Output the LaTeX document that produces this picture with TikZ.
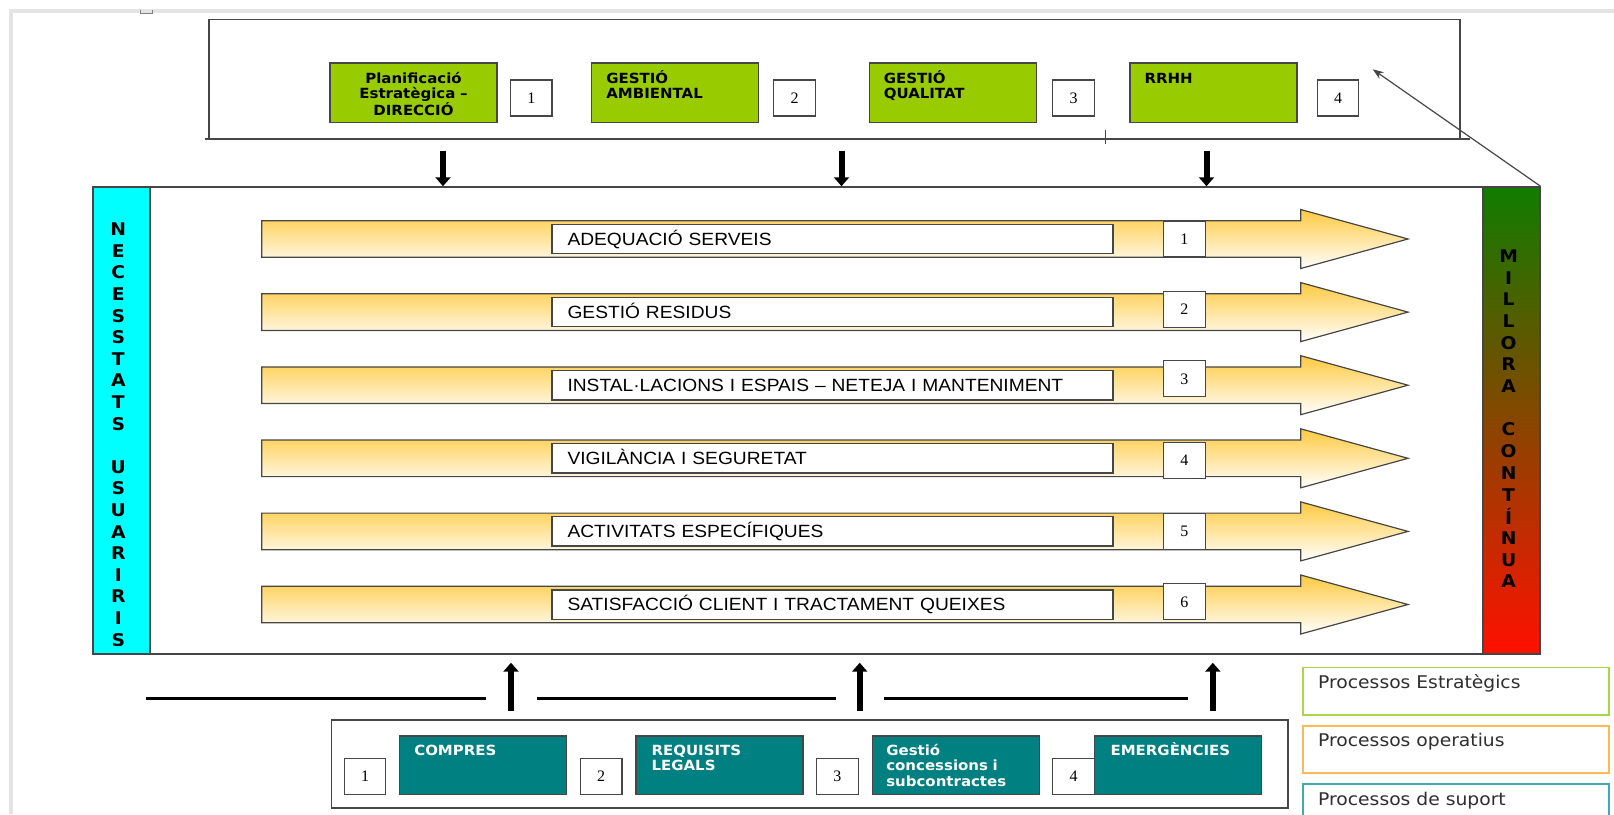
\documentclass[tikz,border=0pt]{standalone}
\usepackage{fontspec}
\usepackage{tikz}
\usetikzlibrary{arrows.meta,calc}
\setmainfont{Liberation Sans}
\newfontfamily\tahfont[FakeStretch=1.07]{DejaVu Sans}
\newfontfamily\rowfont[FakeStretch=1.085]{Liberation Sans}
\newfontfamily\numfont{Liberation Serif}
\definecolor{pr_green}{RGB}{153,204,0}
\definecolor{pr_teal}{RGB}{0,128,128}
\definecolor{pr_cyan}{RGB}{0,255,255}
\definecolor{pr_gold}{RGB}{255,202,64}
\definecolor{pr_dark}{RGB}{70,70,70}
\definecolor{pr_top}{RGB}{16,124,0}
\definecolor{pr_bot}{RGB}{255,16,0}
\definecolor{lg_green}{RGB}{168,216,72}
\definecolor{lg_orange}{RGB}{252,186,84}
\definecolor{lg_teal}{RGB}{64,170,176}
\definecolor{pg_gray}{RGB}{228,228,228}
\tikzstyle{gb}=[rectangle,fill=pr_green,draw=pr_dark,line width=1.3pt,
  minimum width=167pt,minimum height=59.5pt,inner sep=0pt]
\tikzstyle{tb}=[rectangle,fill=pr_teal,draw=pr_dark,line width=1.3pt,
  minimum width=167pt,minimum height=58.3pt,inner sep=0pt]
\tikzstyle{nb}=[rectangle,fill=white,draw=pr_dark,line width=1.1pt,
  minimum width=41.5pt,minimum height=36pt,inner sep=0pt,
  text height=11pt,text depth=0pt,font=\numfont\fontsize{16}{16}\selectfont]
\tikzstyle{lab}=[anchor=base west,inner sep=0pt,text width=150pt,align=left,
  font=\tahfont\bfseries\fontsize{14}{15.2}\selectfont]
\tikzstyle{rb}=[rectangle,fill=white,draw=pr_dark,line width=1.3pt,
  text width=530pt,inner xsep=15.5pt,inner ysep=0pt,minimum height=29.3pt,
  align=left,text height=12.7pt,text depth=0pt,
  font=\rowfont\fontsize{17.7}{17.7}\selectfont]
\tikzstyle{bar}=[rectangle,draw=pr_dark,line width=1.3pt,
  minimum width=57pt,minimum height=467pt,inner sep=0pt]
\tikzstyle{vl}=[inner sep=0pt,font=\tahfont\bfseries\fontsize{17.5}{17.5}\selectfont]
\tikzstyle{lgb}=[rectangle,fill=white,line width=1.5pt,anchor=north west,
  minimum width=306pt,minimum height=47.3pt,inner sep=0pt]
\tikzstyle{lgt}=[anchor=base west,inner sep=0pt,text=black!82,
  font=\tahfont\fontsize{17.5}{17.5}\selectfont]
\tikzstyle{darr}=[line width=6pt,-{Triangle[length=9pt,width=15pt]}]

\begin{document}
\begin{tikzpicture}[x=1pt,y=-1pt]
    \useasboundingbox (0,0) rectangle (1614,814);
    \draw[pg_gray,line width=3.4pt] (11,814) -- (11,11) -- (1614,11);
    \draw[gray,line width=0.8pt] (140,9.5) -- (140,13) -- (152.5,13) -- (152.5,9.5);

    % estrategics
    \draw[pr_dark,line width=1.5pt] (209,139) -- (209,19.3) -- (1460,19.3) -- (1460,139);
    \draw[pr_dark,line width=1.5pt] (205,139) -- (1470,139);
    \draw[pr_dark,line width=1pt] (1105,130) -- (1105,144);
    \node[gb] (g1) at (413.5,92.75) {};
    \node[gb] (g2) at (675.3,92.75) {};
    \node[gb] (g3) at (952.75,92.75) {};
    \node[gb] (g4) at (1213.5,92.75) {};
    \node[lab,anchor=base,text width=160pt,align=center] (t1) at ($(g1.north)+(0,21.3)$)
        {Planificació\\Estratègica –\\DIRECCIÓ};
    \node[lab] (t2) at ($(g2.north west)+(15,21.3)$) {GESTIÓ\\AMBIENTAL};
    \node[lab] (t3) at ($(g3.north west)+(15,21.3)$) {GESTIÓ\\QUALITAT};
    \node[lab] (t4) at ($(g4.north west)+(15,21.3)$) {RRHH};
    \node[nb] (s1) at (531.25,98) {1};
    \node[nb] (s2) at (794.5,98) {2};
    \node[nb] (s3) at (1073.5,98) {3};
    \node[nb] (s4) at (1338,98) {4};

    % operatius
    \node[rectangle,draw=pr_dark,line width=1.5pt,minimum width=1447pt,
        minimum height=467pt,inner sep=0pt] (main) at (816.5,420.5) {};
    \node[bar,fill=pr_cyan] (nec) at (121.5,420.5) {};
    \node[bar,top color=pr_top,bottom color=pr_bot] (mil) at (1511.5,420.5) {};
    \begin{scope}
        \clip (nec.north west) rectangle (150,645);
        \foreach \c [count=\k from 0] in {N,E,C,E,S,S,T,A,T,S,{},U,S,U,A,R,I,R,I,S}
            \node[vl] (n\k) at (118.3,229.3+21.6*\k) {\c};
    \end{scope}
    \foreach \c [count=\k from 0] in {M,I,L,L,O,R,A,{},C,O,N,T,Í,N,U,A}
        \node[vl] (m\k) at (1508.6,256+21.7*\k) {\c};

    \foreach \txt/\dy [count=\i] in {ADEQUACIÓ SERVEIS/0, GESTIÓ RESIDUS/-3,
        INSTAL·LACIONS I ESPAIS – NETEJA I MANTENIMENT/-6.5,
        VIGILÀNCIA I SEGURETAT/2, ACTIVITATS ESPECÍFIQUES/0,
        SATISFACCIÓ CLIENT I TRACTAMENT QUEIXES/-3}{
        \pgfmathsetmacro\cy{239+73.1*(\i-1)}
        \shade[draw=pr_dark,line width=1.2pt,top color=pr_gold,bottom color=white]
            (261.7,\cy-18.3) -- (1300.7,\cy-18.3) -- (1300.7,\cy-29.5) -- (1408,\cy)
            -- (1300.7,\cy+29.5) -- (1300.7,\cy+18.3) -- (261.7,\cy+18.3) -- cycle;
        \node[rb] (r\i) at (832.5,\cy) {\txt};
        \node[nb] (k\i) at (1184.4,\cy+\dy) {\i};
    }

    \foreach \x [count=\k] in {443,841.5,1206.5}{
        \coordinate (d\k) at (\x,150.7);
        \draw[darr] (d\k) -- (d\k |- main.north);
    }
    \coordinate (dg) at (1372.7,69.3);
    \draw[pr_dark,line width=1.2pt,-{Stealth[length=11pt,width=8pt]}] (mil.north east) -- (dg);

    % suport
    \draw[line width=2.6pt] (146,698.7) -- (485.5,698.7);
    \draw[line width=2.6pt] (536.7,698.7) -- (836.3,698.7);
    \draw[line width=2.6pt] (884,698.7) -- (1188.4,698.7);
    \foreach \x [count=\k] in {511,859.7,1212.8}{
        \coordinate (u\k) at (\x,710.7);
        \coordinate (v\k) at (\x,662.7);
        \draw[darr] (u\k) -- (v\k);
    }
    \node[rectangle,draw=pr_dark,line width=1.5pt,minimum width=956.4pt,
        minimum height=88pt,inner sep=0pt] (sup) at (809.8,764) {};
    \node[tb] (b1) at (483.2,765.2) {};
    \node[tb] (b2) at (719.5,765.2) {};
    \node[tb] (b3) at (955.75,765.2) {};
    \node[tb] (b4) at (1178,765.2) {};
    \node[lab,text=white] (w1) at ($(b1.north west)+(15,20.2)$) {COMPRES};
    \node[lab,text=white] (w2) at ($(b2.north west)+(16,20.2)$) {REQUISITS\\LEGALS};
    \node[lab,text=white] (w3) at ($(b3.north west)+(14.5,20.2)$) {Gestió\\concessions i\\subcontractes};
    \node[lab,text=white] (w4) at ($(b4.north west)+(16.5,20.2)$) {EMERGÈNCIES};
    \node[nb] (p1) at (365,776.3) {1};
    \node[nb] (p2) at (601.2,776.3) {2};
    \node[nb] (p3) at (837.3,776.3) {3};
    \node[nb] (p4) at (1073.5,776.3) {4};

    % llegenda
    \node[lgb,draw=lg_green] (l1) at (1302,666.7) {};
    \node[lgb,draw=lg_orange] (l2) at (1302,725) {};
    \node[lgb,draw=lg_teal] (l3) at (1302,783.3) {};
    \node[lgt] (lt1) at ($(l1.north west)+(16,21.6)$) {Processos Estratègics};
    \node[lgt] (lt2) at ($(l2.north west)+(16,21.7)$) {Processos operatius};
    \node[lgt] (lt3) at ($(l3.north west)+(16,22.4)$) {Processos de suport};
\end{tikzpicture}
\end{document}
